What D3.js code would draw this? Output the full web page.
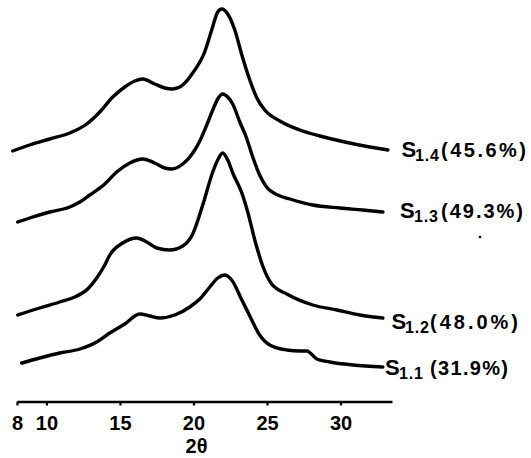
<!DOCTYPE html>
<html>
<head>
<meta charset="utf-8">
<script src="https://cdn.jsdelivr.net/npm/d3@7"></script>
<style>
  body { margin: 0; background: #fff; }
  svg { display: block; }
  text { font-family: "Liberation Sans", Arial, sans-serif; font-weight: 700; fill: #000; }
</style>
</head>
<body>
<svg id="chart" width="531" height="458"></svg>
<script>
// 2-theta (deg) vs. relative intensity (a.u., curves stacked as drawn)
const curveS14 = [
  [7.71, 24.9], [8.86, 25.5], [10.22, 26.1], [11.59, 26.7], [12.74, 27.6], [13.63, 28.8],
  [14.51, 30.3], [15.33, 31.3], [16.01, 31.9], [16.55, 32.1], [17.37, 31.6], [18.05, 31.2],
  [18.59, 31.1], [19.27, 31.5], [19.95, 32.7], [20.76, 34.8], [21.24, 37.0], [21.65, 38.8],
  [21.92, 39.1], [22.33, 38.6], [22.81, 37.0], [23.29, 34.5], [23.83, 32.0], [24.31, 30.2],
  [24.85, 29.0], [25.87, 27.9], [27.23, 27.0], [28.59, 26.4], [30.29, 25.8], [31.99, 25.3],
  [33.22, 25.0]
];

const curveS13 = [
  [8.05, 17.8], [8.86, 18.2], [10.22, 18.8], [11.59, 19.3], [12.27, 19.8], [12.95, 20.5],
  [13.97, 21.6], [14.78, 22.8], [15.67, 23.7], [16.55, 24.1], [17.37, 23.7], [18.05, 23.2],
  [18.52, 23.1], [19.27, 23.6], [20.09, 25.0], [20.43, 25.9], [20.90, 27.5], [21.31, 29.0],
  [21.65, 30.1], [21.99, 30.6], [22.33, 30.3], [22.67, 29.6], [23.15, 27.8], [23.56, 26.4],
  [24.03, 24.3], [24.50, 22.5], [24.97, 21.3], [25.73, 20.5], [26.55, 20.1], [28.11, 19.5],
  [29.95, 19.2], [31.51, 19.0], [32.88, 18.8]
];

const curveS12 = [
  [8.05, 8.5], [9.54, 9.2], [10.90, 9.8], [11.93, 10.3], [12.81, 11.1], [13.42, 12.2],
  [13.97, 13.5], [14.31, 14.5], [15.19, 15.7], [16.14, 16.2], [16.82, 15.8], [17.50, 15.2],
  [18.39, 15.0], [19.27, 15.4], [19.95, 16.6], [20.63, 19.5], [21.31, 22.8], [21.65, 24.0],
  [21.99, 24.7], [22.33, 24.0], [22.70, 22.6], [23.29, 20.7], [23.69, 18.8], [24.17, 16.0],
  [24.71, 13.4], [25.32, 11.6], [26.35, 10.6], [28.11, 9.5], [29.75, 9.0], [31.31, 8.5],
  [32.88, 8.2]
];

const curveS11 = [
  [8.32, 3.7], [9.54, 4.2], [10.90, 4.7], [12.27, 5.1], [13.42, 5.8], [14.31, 6.7],
  [15.33, 7.6], [16.35, 8.6], [17.03, 8.4], [17.71, 8.2], [18.73, 8.5], [19.75, 9.3],
  [20.43, 10.1], [21.11, 11.3], [21.65, 12.2], [22.13, 12.5], [22.60, 12.0], [23.29, 10.0],
  [23.83, 8.4], [24.50, 6.5], [25.19, 5.5], [26.35, 5.0], [27.23, 4.9], [27.71, 4.9],
  [28.39, 4.1], [29.27, 3.8], [30.83, 3.5], [32.88, 3.3]
];

const curves = [curveS14, curveS13, curveS12, curveS11];
const sampleSubs = ["1.4", "1.3", "1.2", "1.1"];
const sampleCryst = ["(45.6%)", "(49.3%)", "(48.0%)", "(31.9%)"];
const xTicks = [8, 10, 15, 20, 25, 30];

const svg = d3.select("#chart");

const x = d3.scaleLinear().domain([8, 33.5]).range([17, 392]);
const y = d3.scaleLinear().domain([0, 40]).range([400, 0]);

const line = d3.line()
  .x(d => x(d[0]))
  .y(d => y(d[1]))
  .curve(d3.curveMonotoneX);

svg.selectAll("path.trace")
  .data(curves)
  .enter()
  .append("path")
  .attr("class", "trace")
  .attr("d", line)
  .attr("fill", "none")
  .attr("stroke", "#000")
  .attr("stroke-width", 3.4)
  .attr("stroke-linecap", "round")
  .attr("stroke-linejoin", "round");

// x axis
const axis = svg.append("g")
  .attr("transform", "translate(0,401.5)")
  .call(d3.axisBottom(x).tickValues(xTicks).tickSize(4).tickSizeOuter(0).tickPadding(10));

axis.select(".domain").attr("stroke", "#000").attr("stroke-width", 2.6);
axis.selectAll(".tick line").attr("stroke", "#000").attr("stroke-width", 2.2);
axis.selectAll(".tick text")
  .attr("font-family", "Liberation Sans, Arial, sans-serif")
  .attr("font-weight", 700)
  .attr("font-size", 20)
  .attr("fill", "#000");

svg.append("text")
  .attr("x", 196.5)
  .attr("y", 453)
  .attr("text-anchor", "middle")
  .attr("font-size", 20)
  .text("2θ");

// curve labels
const labelPos = [
  { sx: 401.5, base: 157, subX: 415, parX: 441, parW: 85 },
  { sx: 400,   base: 218, subX: 414, parX: 441, parW: 82 },
  { sx: 391.5, base: 329, subX: 405, parX: 430, parW: 88 },
  { sx: 385,   base: 375, subX: 399, parX: 430, parW: 78 }
];

labelPos.forEach((p, i) => {
  svg.append("text")
    .attr("x", p.sx)
    .attr("y", p.base)
    .attr("font-size", 22)
    .text("S");

  svg.append("text")
    .attr("x", p.subX)
    .attr("y", p.base + 4)
    .attr("font-size", 16)
    .attr("textLength", 24)
    .attr("lengthAdjust", "spacing")
    .text(sampleSubs[i]);

  svg.append("text")
    .attr("x", p.parX)
    .attr("y", p.base)
    .attr("font-size", 20)
    .attr("textLength", p.parW)
    .attr("lengthAdjust", "spacing")
    .text(sampleCryst[i]);
});

// small speck under the S1.3 label
svg.append("circle")
  .attr("cx", 480)
  .attr("cy", 237)
  .attr("r", 1.3)
  .attr("fill", "#000");
</script>
</body>
</html>
